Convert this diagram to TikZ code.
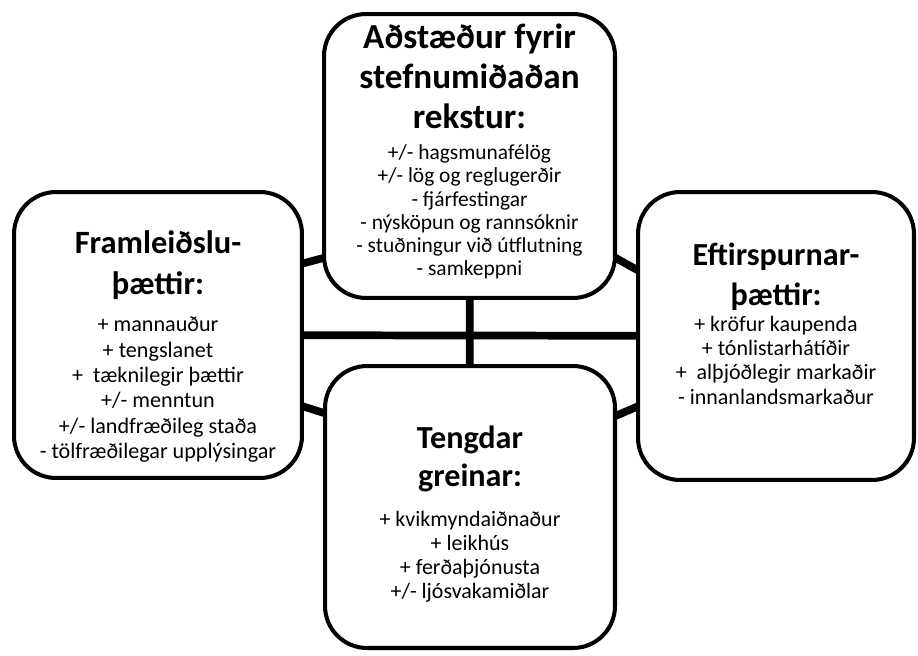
\documentclass[tikz,border=0pt]{standalone}
\usepackage{fontspec}
\setmainfont{Carlito}
\usetikzlibrary{positioning,backgrounds}

\begin{document}
\begin{tikzpicture}[x=0.02cm,y=-0.02cm,
  box/.style={draw,line width=2.3pt,rounded corners=0.84cm,fill=white,inner sep=0pt},
  link/.style={line width=4.4pt},
  head/.style={align=center,inner sep=0pt},
  items/.style={font=\fontsize{12.5}{13.8}\selectfont,align=center,inner sep=0pt}]

\useasboundingbox (0,0) rectangle (918,655);

% the four boxes
\node[box,minimum width=5.82cm,minimum height=5.68cm] (top) at (469.5,156) {};
\node[box,minimum width=5.76cm,minimum height=5.72cm] (left) at (158,335) {};
\node[box,minimum width=5.52cm,minimum height=5.76cm] (right) at (776,336) {};
\node[box,minimum width=5.80cm,minimum height=5.64cm] (bottom) at (470,507) {};

% connectors behind the boxes
\begin{pgfonlayer}{background}
\draw[link] (left.center) -- (right.center);
\draw[link] (top.center) -- (bottom.center);
\draw[link] ([shift={(-18,-67)}]left.east) -- ([shift={(20,97)}]top.west);
\draw[link] ([shift={(-18,66)}]left.east) -- ([shift={(20,-88)}]bottom.west);
\draw[link] ([shift={(-20,91.5)}]top.east) -- ([shift={(20,-55.5)}]right.west);
\draw[link] ([shift={(-18,-84)}]bottom.east) -- ([shift={(19,63)}]right.west);
\end{pgfonlayer}

% texts
\node[head,anchor=north,font=\bfseries\fontsize{20}{23}\selectfont] (topHead) at (469.5,23)
  {Aðstæður fyrir\\stefnumiðaðan\\rekstur:};
\node[items,font=\fontsize{12.2}{13.2}\selectfont,below=0.3cm of topHead] (topItems)
  {+/- hagsmunafélög\\+/- lög og reglugerðir\\- fjárfestingar\\- nýsköpun og rannsóknir\\- stuðningur við útflutning\\- samkeppni};

\node[head,anchor=north,font=\bfseries\fontsize{18.5}{23.5}\selectfont] (leftHead) at (158,230)
  {Framleiðslu-\\þættir:};
\node[items,font=\fontsize{12.6}{14.5}\selectfont,below=0.33cm of leftHead] (leftItems)
  {+ mannauður\\+ tengslanet\\+~~tæknilegir þættir\\+/- menntun\\+/- landfræðileg staða\\- tölfræðilegar upplýsingar};

\node[head,anchor=north,font=\bfseries\fontsize{18.3}{22.5}\selectfont] (rightHead) at (776,243)
  {Eftirspurnar-\\þættir:};
\node[items,below=0.1cm of rightHead] (rightItems)
  {+ kröfur kaupenda\\+ tónlistarhátíðir\\+~~alþjóðlegir markaðir\\- innanlandsmarkaður};

\node[head,anchor=north,font=\bfseries\fontsize{18.3}{21.5}\selectfont] (bottomHead) at (470,426)
  {Tengdar\\greinar:};
\node[items,below=0.36cm of bottomHead] (bottomItems)
  {+ kvikmyndaiðnaður\\+ leikhús\\+ ferðaþjónusta\\+/- ljósvakamiðlar};

\end{tikzpicture}
\end{document}
